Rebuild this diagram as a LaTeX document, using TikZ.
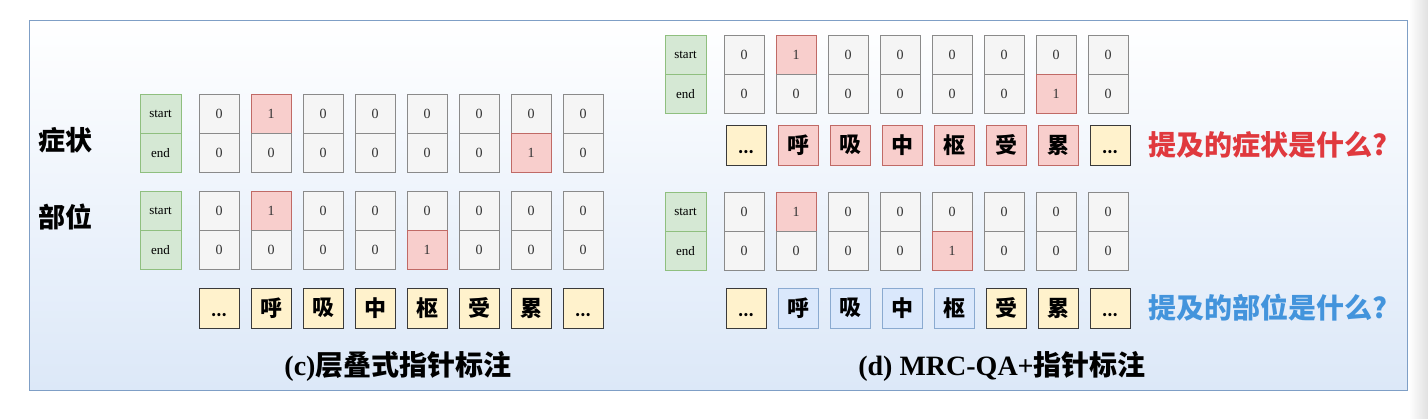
\documentclass[tikz,border=0pt]{standalone}
\usepackage{fontspec}
\setmainfont{Liberation Serif}
\newfontfamily\cjk{Noto Sans CJK SC}
\usetikzlibrary{positioning}

\definecolor{cellgray}{HTML}{F5F5F5}
\definecolor{cellline}{HTML}{8A8A8A}
\definecolor{hitpink}{HTML}{F8CECC}
\definecolor{hitline}{HTML}{C06A66}
\definecolor{taggreen}{HTML}{D5E8D4}
\definecolor{tagline}{HTML}{8FBF7F}
\definecolor{tokyellow}{HTML}{FFF2CC}
\definecolor{tokline}{HTML}{3A3A3A}
\definecolor{tokbluefill}{HTML}{DAE8FC}
\definecolor{tokblueline}{HTML}{8AAAD0}
\definecolor{frameblue}{HTML}{7F9FC6}
\definecolor{panelblue}{HTML}{DCE8F8}
\definecolor{qred}{HTML}{E0393E}
\definecolor{qblue}{HTML}{4394DC}

\tikzset{
  base/.style={draw, inner sep=0pt, line width=0.9pt},
  cell/.style={base, fill=cellgray, draw=cellline, minimum width=40pt,
    minimum height=39pt, text=black!80, font=\fontsize{14}{14}\selectfont},
  hit/.style={cell, fill=hitpink, draw=hitline},
  tag/.style={base, fill=taggreen, draw=tagline, minimum width=41pt,
    minimum height=39pt, font=\fontsize{13}{13}\selectfont},
  tok/.style={base, fill=tokyellow, draw=tokline, minimum width=40pt,
    minimum height=40pt, font=\cjk\bfseries\fontsize{22}{22}\selectfont},
  tokred/.style={tok, fill=hitpink, draw=hitline},
  tokblue/.style={tok, fill=tokbluefill, draw=tokblueline},
  rowlabel/.style={anchor=west, font=\cjk\bfseries\fontsize{27}{27}\selectfont},
  question/.style={anchor=west, font=\cjk\bfseries\fontsize{28}{28}\selectfont},
  caption/.style={font=\bfseries\fontsize{28}{28}\selectfont},
}

\newcommand{\tokdots}{{\bfseries\fontsize{15}{15}\selectfont\rule{0pt}{18pt}...}}

% start/end grid: name, left x, top y, start index, end index
\newcommand{\ptrgrid}[5]{%
  \node[tag] (#1-start) at (#2-38.5,#3+19.5) {start};
  \node[tag, below=0pt of #1-start] (#1-end) {end};
  \foreach \i in {0,...,7}{
    \ifnum\i=#4 \def\sst{hit}\def\sv{1}\else\def\sst{cell}\def\sv{0}\fi
    \ifnum\i=#5 \def\est{hit}\def\ev{1}\else\def\est{cell}\def\ev{0}\fi
    \node[\sst] (#1-s\i) at (#2+20+52*\i,#3+19.5) {\sv};
    \node[\est] (#1-e\i) at (#2+20+52*\i,#3+58.5) {\ev};
  }
}

\begin{document}
\begin{tikzpicture}[x=1pt,y=-1pt]
\useasboundingbox (0,0) rectangle (1428,418);
\fill[white] (0,0) rectangle (1428,418);
\shade[left color=white, right color=black!12] (1409,0) rectangle (1428,418);
\shade[top color=white, bottom color=panelblue, draw=frameblue, line width=1pt]
  (29,20) rectangle (1407,390);

% (c) stacked pointers
\node[rowlabel] (sym) at (35,140) {症状};
\node[rowlabel] (loc) at (35,217) {部位};
\ptrgrid{cs}{199}{94}{1}{6}
\ptrgrid{cl}{199}{191}{1}{4}
\foreach \t/\st [count=\k from 0] in {\tokdots/tok, 呼/tok, 吸/tok, 中/tok,
    枢/tok, 受/tok, 累/tok, \tokdots/tok}
  \node[\st] (ct\k) at (219+52*\k,308) {\t};
\node[caption] (capc) at (398,366) {(c){\cjk 层叠式指针标注}};

% (d) MRC-QA + pointers
\ptrgrid{ds}{724}{35}{1}{6}
\foreach \t/\st [count=\k from 0] in {\tokdots/tok, 呼/tokred, 吸/tokred,
    中/tokred, 枢/tokred, 受/tokred, 累/tokred, \tokdots/tok}
  \node[\st] (dt\k) at (746+52*\k,145) {\t};
\node[question, text=qred, right=15pt of dt7] (qsym) {提及的症状是什么?};

\ptrgrid{dl}{724}{192}{1}{4}
\foreach \t/\st [count=\k from 0] in {\tokdots/tok, 呼/tokblue, 吸/tokblue,
    中/tokblue, 枢/tokblue, 受/tok, 累/tok, \tokdots/tok}
  \node[\st] (du\k) at (746+52*\k,308) {\t};
\node[question, text=qblue, right=15pt of du7] (qloc) {提及的部位是什么?};

\node[caption] (capd) at (1002,366) {(d) MRC-QA+{\cjk 指针标注}};
\end{tikzpicture}
\end{document}
